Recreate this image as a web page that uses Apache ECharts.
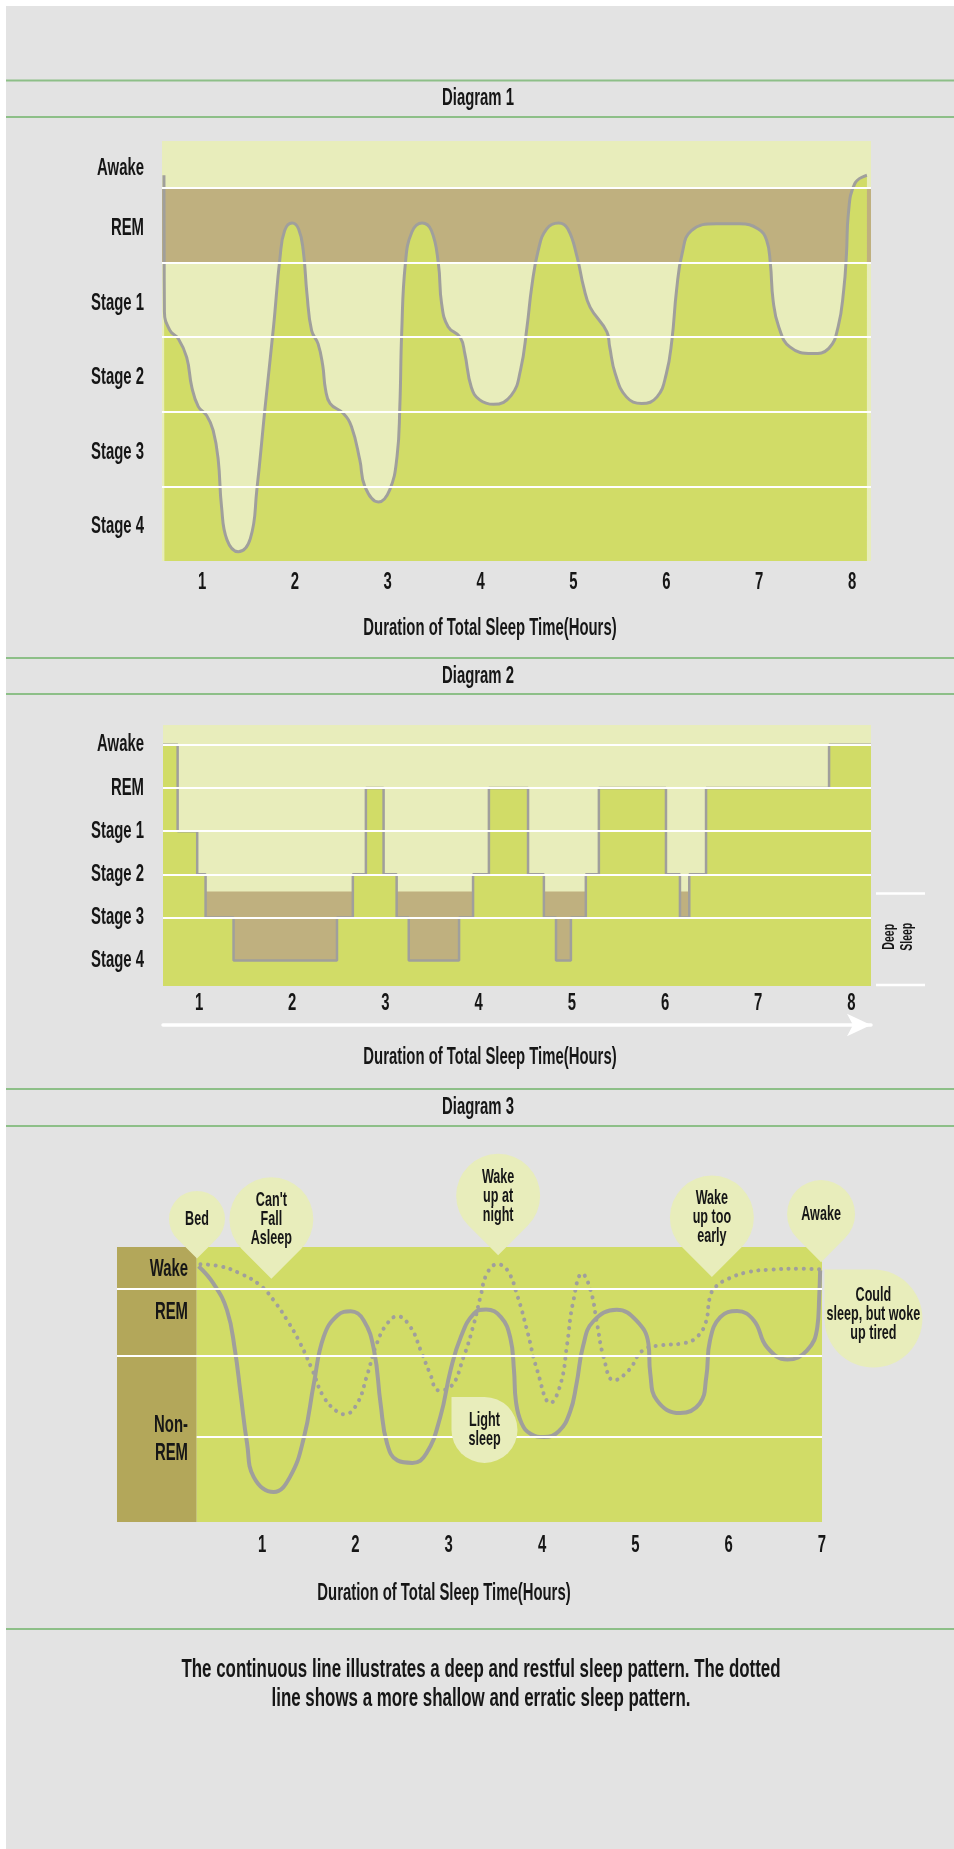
<!DOCTYPE html>
<html><head><meta charset="utf-8">
<script src="https://cdn.jsdelivr.net/npm/echarts@6.0.0/dist/echarts.min.js"></script>
<style>html,body{margin:0;padding:0;background:#e3e3e3}#c{width:954px;height:1849px}</style>
</head><body><div id="c"></div><script>
// ---------- data ----------
const hourTicks8 = [1, 2, 3, 4, 5, 6, 7, 8];
const hourTicks7 = [1, 2, 3, 4, 5, 6, 7];

// Diagram 1 (smooth hypnogram)
const d1StageNames = ['Stage 4', 'Stage 3', 'Stage 2', 'Stage 1', 'REM', 'Awake'];
const d1StageLabelAt = [0.5, 1.5, 2.5, 3.5, 4.5, 5.3];
const d1StageBounds = [1, 2, 3, 4, 5];
const d1RemBand = [4, 5];
const d1Hours = [0.59, 0.595, 0.655, 0.745, 0.835, 0.89, 0.96, 1.05, 1.12, 1.175, 1.21, 1.27, 1.39, 1.52, 1.59, 1.68, 1.77, 1.84, 1.89, 1.97, 2.04, 2.09, 2.13, 2.18, 2.25, 2.30, 2.33, 2.38, 2.52, 2.61, 2.70, 2.755, 2.90, 3.02, 3.10, 3.13, 3.15, 3.19, 3.26, 3.37, 3.47, 3.545, 3.58, 3.65, 3.78, 3.83, 3.90, 3.99, 4.14, 4.33, 4.43, 4.50, 4.55, 4.62, 4.71, 4.84, 4.94, 5.04, 5.11, 5.18, 5.36, 5.39, 5.45, 5.57, 5.735, 5.90, 6.00, 6.06, 6.11, 6.17, 6.27, 6.54, 6.79, 6.99, 7.08, 7.12, 7.15, 7.21, 7.33, 7.57, 7.75, 7.85, 7.91, 7.94, 7.96, 8.03, 8.16];
const d1Depth = [5.17, 3.34, 3.09, 2.98, 2.73, 2.33, 2.07, 1.95, 1.75, 1.35, 0.73, 0.28, 0.125, 0.30, 0.95, 2.07, 3.14, 4.07, 4.43, 4.53, 4.45, 4.16, 3.58, 3.09, 2.91, 2.62, 2.30, 2.11, 1.98, 1.80, 1.35, 0.995, 0.79, 0.95, 1.40, 2.07, 3.05, 3.99, 4.41, 4.53, 4.43, 3.99, 3.45, 3.14, 3.00, 2.78, 2.33, 2.16, 2.10, 2.22, 2.56, 3.14, 3.67, 4.16, 4.45, 4.53, 4.45, 4.07, 3.67, 3.40, 3.07, 2.87, 2.51, 2.20, 2.11, 2.20, 2.51, 2.96, 3.63, 4.12, 4.43, 4.52, 4.52, 4.45, 4.30, 3.99, 3.49, 3.14, 2.87, 2.78, 2.85, 3.14, 3.63, 4.12, 4.65, 5.06, 5.17];

// Diagram 2 (step hypnogram)
const d2StageNames = ['Stage 4', 'Stage 3', 'Stage 2', 'Stage 1', 'REM', 'Awake'];
const d2StageLevels = [0, 1, 2, 3, 4, 5];
const d2DeepSleepTop = 1.6;
const d2Hours = [0.613, 0.77, 0.98, 1.07, 1.37, 2.48, 2.65, 2.79, 2.98, 3.12, 3.25, 3.79, 3.94, 4.11, 4.53, 4.70, 4.83, 4.99, 5.15, 5.29, 6.01, 6.16, 6.26, 6.44, 7.76, 8.21];
const d2Stage = [5, 3, 2, 1, 0, 1, 2, 4, 2, 1, 0, 1, 2, 4, 2, 1, 0, 1, 2, 4, 2, 1, 2, 4, 5, 5];

// Diagram 3 (restful vs erratic)
const d3StateNames = ['Wake', 'REM', 'Non-\nREM'];
const d3StateLabelAt = [91.8, 76.1, 30];
const d3Bounds = [30.9, 60.6, 84.9];
const d3BedHour = 0.30;
const d3SolidHours = [0.32, 0.48, 0.625, 0.71, 0.77, 0.84, 0.91, 1.125, 1.30, 1.45, 1.555, 1.66, 1.81, 1.95, 2.09, 2.20, 2.27, 2.34, 2.45, 2.61, 2.76, 2.91, 3.02, 3.13, 3.27, 3.40, 3.56, 3.66, 3.70, 3.72, 3.78, 3.88, 4.02, 4.18, 4.30, 4.37, 4.44, 4.55, 4.80, 5.01, 5.14, 5.16, 5.23, 5.48, 5.69, 5.76, 5.80, 5.91, 6.09, 6.27, 6.41, 6.63, 6.84, 6.95, 6.97, 6.98];
const d3Solid = [93.0, 86.7, 77.0, 62.4, 46.7, 28.5, 16.4, 10.9, 16.4, 30.9, 50.3, 67.3, 75.2, 76.6, 73.3, 62.4, 43.1, 28.5, 22.4, 21.5, 24.9, 38.2, 55.2, 67.3, 75.8, 77.3, 74.5, 67.0, 55.0, 44.0, 36.0, 32.0, 30.9, 33.0, 40.0, 50.3, 64.0, 73.0, 77.2, 73.3, 64.9, 54.0, 44.3, 39.6, 43.1, 52.7, 66.1, 74.5, 76.7, 73.3, 63.6, 59.1, 62.4, 70.9, 81.8, 91.5];
const d3DotHours = [0.34, 0.55, 0.77, 0.98, 1.125, 1.27, 1.41, 1.54, 1.66, 1.81, 1.89, 2.02, 2.12, 2.23, 2.34, 2.45, 2.59, 2.70, 2.80, 2.89, 3.02, 3.16, 3.27, 3.34, 3.41, 3.52, 3.63, 3.74, 3.84, 3.95, 4.09, 4.20, 4.27, 4.33, 4.43, 4.52, 4.59, 4.66, 4.77, 4.93, 5.08, 5.29, 5.50, 5.64, 5.75, 5.80, 5.86, 6.00, 6.21, 6.46, 6.75, 6.98];
const d3Dotted = [93.7, 93.0, 90.3, 86.1, 80.6, 73.3, 64.9, 55.2, 45.5, 40.0, 39.2, 43.1, 52.7, 64.9, 72.1, 74.8, 70.9, 62.4, 54.0, 47.9, 49.1, 60.0, 72.1, 81.8, 90.3, 93.7, 91.5, 81.8, 69.7, 55.0, 43.3, 50.3, 64.9, 79.4, 90.3, 84.3, 72.1, 60.0, 51.5, 55.2, 62.4, 64.3, 64.9, 66.7, 72.1, 81.8, 85.5, 88.5, 90.9, 91.8, 92.1, 91.9];
const calloutText = ['Bed', "Can't\nFall\nAsleep", 'Wake\nup at\nnight', 'Light\nsleep', 'Wake\nup too\nearly', 'Awake', 'Could\nsleep, but woke\nup tired'];
const calloutHour = [0.303, 1.10, 3.53, 3.03, 5.82, 6.99, 6.999];
const calloutLevel = [95.8, 88.5, 97.0, 45.5, 89.1, 94.5, 91.8];

const diagramTitles = ['Diagram 1', 'Diagram 2', 'Diagram 3'];
const axisTitle = 'Duration of Total Sleep Time(Hours)';
const footnote = 'The continuous line illustrates a deep and restful sleep pattern. The dotted\nline shows a more shallow and erratic sleep pattern.';

// ---------- styles ----------
const FONT = "'Liberation Sans', Arial, sans-serif";
const FW = 'bold', SX = 0.62;
const INK = '#161616', LIGHT = '#e8edbb', GREEN = '#d1dc67', TAN = '#bfb07f', OLIVE = '#b3a75a', GRAY = '#a09f9c', SEP = '#8dbf88';
const calloutLook = [
  {r: 28, shape: 'down'}, {r: 42, shape: 'down'}, {r: 42, shape: 'down'}, {r: 33, shape: 'ul', dx: 0},
  {r: 42, shape: 'down'}, {r: 34, shape: 'down'}, {r: 49, shape: 'ul', dx: 2.5, ty: -4}
];
// teardrops: circle (radius 1) with a square corner; first moves make the bounding box square
const DROP_DOWN = 'path://M-1.2071,-1M1.2071,-1M-0.7071,0.7071A1,1,0,1,1,0.7071,0.7071L0,1.4142Z';
const DROP_UL = 'path://M-1,0L-1,-1L0,-1A1,1,0,1,1,-1,0Z';

const pairs = (xs, ys) => xs.map((x, i) => [x, ys[i]]);
const noLine = {show: false, onZero: false};
const mkLineBase = {silent: true, animation: false, symbol: ['none', 'none'], label: {show: false}, emphasis: {disabled: true},
  lineStyle: {color: '#ffffff', width: 2, type: 'solid'}};

function xAx(grid, min, max, extra) {
  return Object.assign({gridIndex: grid, type: 'value', min: min, max: max,
    axisLine: noLine, axisTick: {show: false}, splitLine: {show: false}, axisLabel: {show: false}}, extra || {});
}
function yAx(grid, min, max) {
  return {gridIndex: grid, type: 'value', min: min, max: max,
    axisLine: noLine, axisTick: {show: false}, splitLine: {show: false}, axisLabel: {show: false}};
}

const callouts = calloutText.map((t, i) => {
  const L = calloutLook[i], r = L.r, down = L.shape === 'down';
  return {
    coord: [calloutHour[i], calloutLevel[i]],
    symbol: down ? DROP_DOWN : DROP_UL,
    symbolSize: down ? 2.4142 * r : 2 * r,
    symbolOffset: down ? [0, -1.2071 * r] : [r + (L.dx || 0), r],
    symbolKeepAspect: true,
    itemStyle: {color: LIGHT},
    label: {show: false}
  };
});

const option = {
  animation: false,
  backgroundColor: '#e3e3e3',
  grid: [
    {left: 162, top: 141, width: 709, height: 420, show: true, backgroundColor: LIGHT, borderWidth: 0},
    {left: 163, top: 725, width: 708, height: 261, show: true, backgroundColor: LIGHT, borderWidth: 0},
    {left: 117, top: 1247, width: 705, height: 275, show: false}
  ],
  xAxis: [
    xAx(0, 0.569, 8.204),
    xAx(1, 0.613, 8.21, {
      offset: 39,
      axisLine: {show: true, onZero: false, lineStyle: {color: '#ffffff', width: 3.5}, symbol: ['none', 'arrow'], symbolSize: [17, 24]}
    }),
    xAx(2, -0.554, 7.0)
  ],
  yAxis: [yAx(0, 0, 5.63), yAx(1, -0.59, 5.46), yAx(2, 0, 100)],
  series: [
    // Diagram 1
    {type: 'line', xAxisIndex: 0, yAxisIndex: 0, data: [], z: 1, silent: true,
      markArea: {silent: true, itemStyle: {color: TAN}, data: [[{yAxis: d1RemBand[0]}, {yAxis: d1RemBand[1]}]]}},
    {type: 'line', xAxisIndex: 0, yAxisIndex: 0, data: pairs(d1Hours, d1Depth), z: 2, silent: true,
      smooth: 0.45, symbol: 'none', lineStyle: {width: 0}, areaStyle: {color: GREEN, opacity: 1, origin: 'start'}},
    {type: 'line', xAxisIndex: 0, yAxisIndex: 0, data: [], z: 3, silent: true,
      markLine: Object.assign({}, mkLineBase, {data: d1StageBounds.map(v => ({yAxis: v}))})},
    {type: 'line', xAxisIndex: 0, yAxisIndex: 0, data: pairs(d1Hours, d1Depth), z: 4, silent: true,
      smooth: 0.45, symbol: 'none', lineStyle: {color: GRAY, width: 3}},
    // Diagram 2
    {type: 'line', xAxisIndex: 1, yAxisIndex: 1, data: [], z: 1, silent: true,
      markArea: {silent: true, itemStyle: {color: TAN}, data: [[{yAxis: -0.59}, {yAxis: d2DeepSleepTop}]]}},
    {type: 'line', xAxisIndex: 1, yAxisIndex: 1, data: [], z: 2, silent: true,
      markLine: Object.assign({}, mkLineBase, {data: d2StageLevels.slice(1).map(v => ({yAxis: v}))})},
    {type: 'line', xAxisIndex: 1, yAxisIndex: 1, data: pairs(d2Hours, d2Stage), z: 3, silent: true,
      step: 'end', symbol: 'none', lineStyle: {color: GRAY, width: 2.5}, areaStyle: {color: GREEN, opacity: 1, origin: 'start'}},
    // Diagram 3
    {type: 'line', xAxisIndex: 2, yAxisIndex: 2, data: [], z: 1, silent: true,
      markArea: {silent: true, data: [
        [{xAxis: -0.554, yAxis: 0, itemStyle: {color: OLIVE}}, {xAxis: d3BedHour, yAxis: 100}],
        [{xAxis: d3BedHour, yAxis: 0, itemStyle: {color: GREEN}}, {xAxis: 7.0, yAxis: 100}]
      ]}},
    {type: 'line', xAxisIndex: 2, yAxisIndex: 2, data: [], z: 2, silent: true,
      markLine: Object.assign({}, mkLineBase, {data: d3Bounds.map((v, i) => [{coord: [i === 0 ? d3BedHour : -0.554, v]}, {coord: [7.0, v]}])})},
    {type: 'line', xAxisIndex: 2, yAxisIndex: 2, data: pairs(d3DotHours, d3Dotted), z: 3, silent: true,
      smooth: 0.45, symbol: 'none', lineStyle: {color: GRAY, width: 4, type: [0.1, 7.5], cap: 'round'}},
    {type: 'line', xAxisIndex: 2, yAxisIndex: 2, data: pairs(d3SolidHours, d3Solid), z: 4, silent: true,
      smooth: 0.45, symbol: 'none', lineStyle: {color: GRAY, width: 4}},
    {type: 'line', xAxisIndex: 2, yAxisIndex: 2, data: [], z: 5, silent: true,
      markPoint: {silent: true, animation: false, data: callouts}}
  ]
};
const chart = echarts.init(document.getElementById('c'), null, {renderer: 'canvas'});
chart.setOption(option);

// ---------- text layer (condensed look), placed through the chart's own axes ----------
const P = (g, h, v) => chart.convertToPixel({gridIndex: g}, [h, v]);
function T(text, x, y, fs, align, extra) {
  return Object.assign({type: 'text', silent: true, x: x, y: y, scaleX: SX, z: 100,
    style: Object.assign({text: text, fill: INK, fontFamily: FONT, fontWeight: FW, fontSize: fs,
      align: align || 'center', verticalAlign: 'middle'}, (extra && extra.style) || {})},
    extra && extra.el ? extra.el : {});
}
const G = [];
G.push({type: 'rect', silent: true, shape: {x: 0, y: 0, width: 6, height: 1849}, style: {fill: '#ffffff'}});
G.push({type: 'rect', silent: true, shape: {x: 0, y: 0, width: 954, height: 6}, style: {fill: '#ffffff'}});
[80.5, 117, 658, 694, 1089, 1126, 1629].forEach(y =>
  G.push({type: 'line', silent: true, shape: {x1: 6, y1: y, x2: 954, y2: y}, style: {stroke: SEP, lineWidth: 2}}));
// titles
G.push(T(diagramTitles[0], 478, 98.5, 24));
G.push(T(diagramTitles[1], 478, 676, 24));
G.push(T(diagramTitles[2], 478, 1107.5, 24));
G.push(T(axisTitle, 490, 628, 24));
G.push(T(axisTitle, 490, 1057, 24));
G.push(T(axisTitle, 444, 1593, 24));
G.push(T(footnote, 481, 1684.5, 26, 'center', {style: {lineHeight: 29}, el: {scaleX: 0.65}}));
// Diagram 1 axes labels
hourTicks8.forEach(h => { const p = P(0, h, 0); G.push(T(String(h), p[0], p[1] + 21, 24)); });
d1StageLabelAt.forEach((v, i) => { const p = P(0, 0.569, v); G.push(T(d1StageNames[i], p[0] - 18, p[1] + 3, 24, 'right')); });
// Diagram 2 axes labels
hourTicks8.forEach(h => { const p = P(1, h, -0.59); G.push(T(String(h), p[0], p[1] + 17.5, 24)); });
d2StageLevels.forEach((v, i) => { const p = P(1, 0.613, v); G.push(T(d2StageNames[i], p[0] - 19, p[1], 24, 'right')); });
// Deep sleep bracket
(function () {
  const top = P(1, 8.21, d2DeepSleepTop), bot = P(1, 8.21, -0.59);
  G.push({type: 'line', silent: true, shape: {x1: top[0] + 5, y1: top[1] + 2, x2: top[0] + 54, y2: top[1] + 2}, style: {stroke: '#ffffff', lineWidth: 2.5}});
  G.push({type: 'line', silent: true, shape: {x1: bot[0] + 5, y1: bot[1] - 1, x2: bot[0] + 54, y2: bot[1] - 1}, style: {stroke: '#ffffff', lineWidth: 2.5}});
  G.push(T('Deep\nSleep', top[0] + 27, (top[1] + bot[1]) / 2 - 2, 17, 'center', {style: {lineHeight: 18}, el: {rotation: Math.PI / 2}}));
})();
// Diagram 3 axes labels
hourTicks7.forEach(h => { const p = P(2, h, 0); G.push(T(String(h), p[0], p[1] + 23, 24)); });
d3StateLabelAt.forEach((v, i) => { const p = P(2, -0.554, v); G.push(T(d3StateNames[i], p[0] + 71, p[1], 24, 'right', {style: {lineHeight: 28}})); });
// callout captions
calloutText.forEach((t, i) => {
  const L = calloutLook[i], r = L.r, p = P(2, calloutHour[i], calloutLevel[i]);
  const c = L.shape === 'down' ? [p[0], p[1] - 1.4142 * r] : [p[0] + r + (L.dx || 0), p[1] + r];
  G.push(T(t, c[0], c[1] + (L.ty || 0), 21, 'center', {style: {lineHeight: 19}, el: {scaleX: 0.6, z: 110}}));
});
chart.setOption({graphic: G});
</script></body></html>
